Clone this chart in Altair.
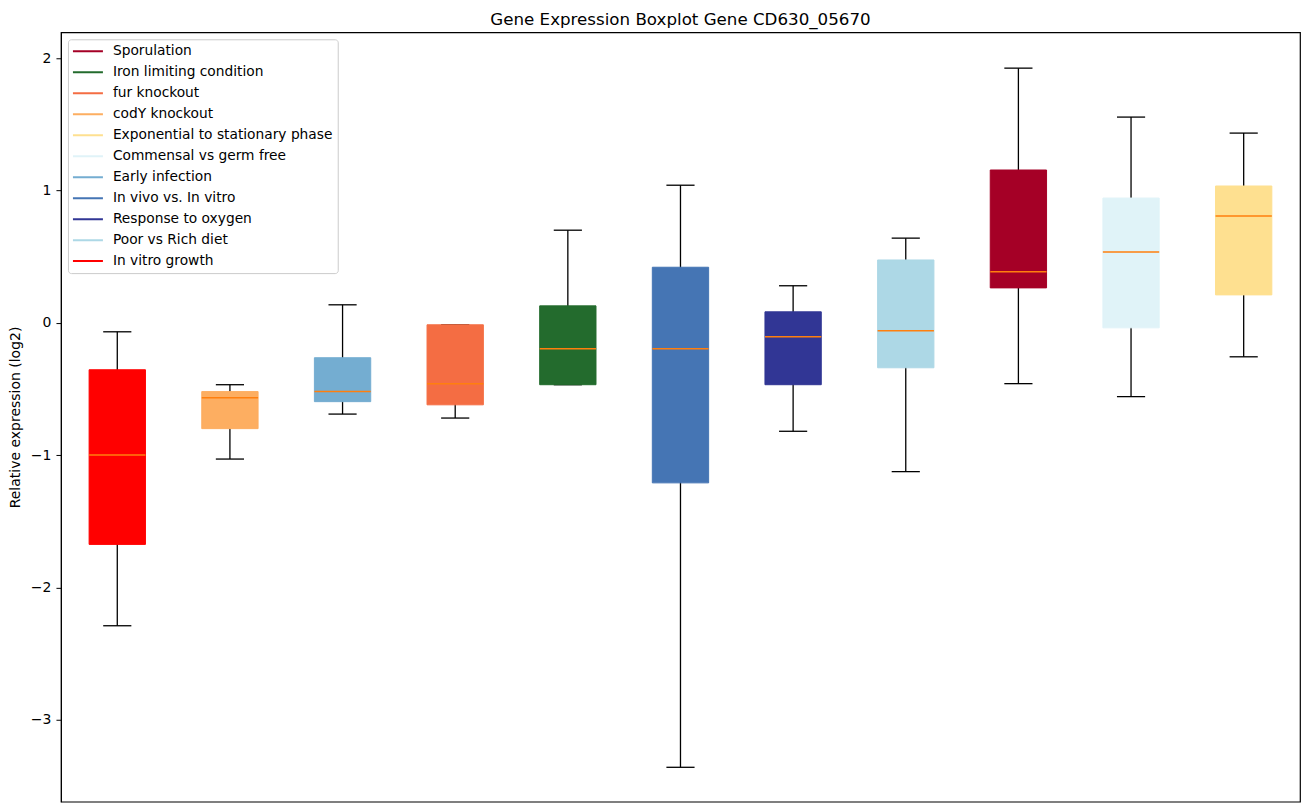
import altair as alt
import pandas as pd

names = ["In vitro growth", "codY knockout", "Early infection", "fur knockout",
         "Iron limiting condition", "In vivo vs. In vitro", "Response to oxygen",
         "Poor vs Rich diet", "Sporulation", "Commensal vs germ free",
         "Exponential to stationary phase"]
lows = [-2.29, -1.03, -0.69, -0.72, -0.468, -3.36, -0.82, -1.125, -0.46, -0.558, -0.257]
q1s = [-1.675, -0.80, -0.596, -0.62, -0.468, -1.21, -0.468, -0.34, 0.264, -0.038, 0.211]
meds = [-1.0, -0.566, -0.52, -0.46, -0.196, -0.196, -0.106, -0.06, 0.385, 0.536, 0.808]
q3s = [-0.355, -0.52, -0.264, -0.015, 0.128, 0.42, 0.083, 0.475, 1.155, 0.943, 1.034]
highs = [-0.068, -0.468, 0.136, -0.015, 0.70, 1.04, 0.28, 0.64, 1.925, 1.555, 1.434]

legend_order = ["Sporulation", "Iron limiting condition", "fur knockout", "codY knockout",
                "Exponential to stationary phase", "Commensal vs germ free", "Early infection",
                "In vivo vs. In vitro", "Response to oxygen", "Poor vs Rich diet",
                "In vitro growth"]
legend_colors = ["#a50026", "#236b2d", "#f46d43", "#fdae61", "#fee090", "#e0f3f8",
                 "#74add1", "#4575b4", "#313695", "#add8e6", "#ff0000"]

df = pd.DataFrame({
    "name": names,
    "pos": list(range(1, len(names) + 1)),
    "lo": lows, "q1": q1s, "med": meds, "q3": q3s, "hi": highs,
})

FONT = "DejaVu Sans"
xscale = alt.Scale(domain=[0.5, 11.5], nice=False, zero=False)
yscale = alt.Scale(domain=[-3.62, 2.196], nice=False, zero=False)
cscale = alt.Scale(domain=legend_order, range=legend_colors)

base = alt.Chart(df).transform_calculate(
    bl="datum.pos - 0.25", br="datum.pos + 0.25",
    cl="datum.pos - 0.125", cr="datum.pos + 0.125",
)

yaxis = alt.Axis(title="Relative expression (log2)", values=[-3, -2, -1, 0, 1, 2],
                 grid=False, tickColor="black", domainColor="black", tickSize=5,
                 labelPadding=5, labelFontSize=14, labelFont=FONT, labelColor="black",
                 titleFontSize=14, titleFont=FONT, titleFontWeight="normal",
                 titleColor="black", titlePadding=8,
                 labelExpr="replace(format(datum.value, 'd'), '-', '\u2212')")

leg = alt.Legend(
    orient="none", legendX=7, legendY=7, symbolType="stroke",
    symbolSize=900, symbolStrokeWidth=2, clipHeight=16, rowPadding=5,
    labelFontSize=13.8, labelFont=FONT, labelColor="black", labelOffset=9,
    strokeColor="#cccccc", fillColor="white", padding=4, cornerRadius=3,
    labelLimit=400)

whisk = base.mark_rule(color="black", strokeWidth=1.3).encode(
    x=alt.X("pos:Q", scale=xscale, axis=None),
    y=alt.Y("lo:Q", scale=yscale, axis=yaxis),
    y2="hi:Q",
)

cap_hi = base.mark_rule(color="black", strokeWidth=1.3).encode(
    x=alt.X("cl:Q", scale=xscale, axis=None), x2="cr:Q",
    y=alt.Y("hi:Q", scale=yscale),
)
cap_lo = base.mark_rule(color="black", strokeWidth=1.3).encode(
    x=alt.X("cl:Q", scale=xscale, axis=None), x2="cr:Q",
    y=alt.Y("lo:Q", scale=yscale),
)

box = base.mark_rect(strokeWidth=1).encode(
    x=alt.X("bl:Q", scale=xscale, axis=None), x2="br:Q",
    y=alt.Y("q1:Q", scale=yscale), y2="q3:Q",
    fill=alt.Fill("name:N", scale=cscale, title=None, legend=leg),
    stroke=alt.Stroke("name:N", scale=cscale, title=None, legend=leg),
)

median = base.mark_rule(color="#ff7f0e", strokeWidth=1.5).encode(
    x=alt.X("bl:Q", scale=xscale, axis=None), x2="br:Q",
    y=alt.Y("med:Q", scale=yscale),
)

chart = alt.layer(whisk, cap_hi, cap_lo, box, median).properties(
    width=1240, height=770, background="white",
    title=alt.TitleParams("Gene Expression Boxplot Gene CD630_05670", fontSize=16.7,
                          font=FONT, fontWeight="normal", color="black", offset=4),
    padding={"left": 0, "top": 3, "right": 1, "bottom": 2},
).configure_view(stroke="black", strokeWidth=1.2)

chart.save("out.html", embed_options={"renderer": "svg", "actions": False})
